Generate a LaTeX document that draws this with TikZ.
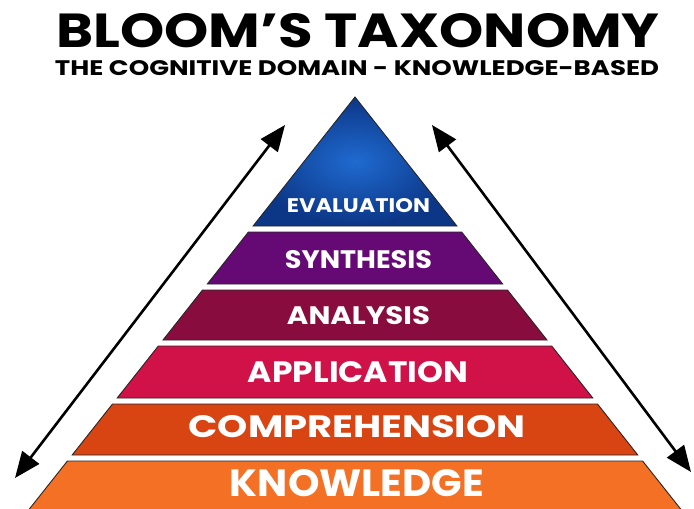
\documentclass[tikz,border=0pt]{standalone}
\usepackage{fontspec}
\usepackage{graphicx}
\setmainfont{Poppins}
\usetikzlibrary{arrows.meta}
\definecolor{evalcenter}{HTML}{1F6AD0}
\definecolor{evaledge}{HTML}{0C3686}
\definecolor{synthmid}{HTML}{A42AB2}
\definecolor{synthedge}{HTML}{650A74}
\definecolor{analysismid}{HTML}{DA3450}
\definecolor{analysisedge}{HTML}{880C3E}
\definecolor{applymid}{HTML}{F4584C}
\definecolor{applyedge}{HTML}{D01248}
\definecolor{comprehmid}{HTML}{F47A24}
\definecolor{comprehedge}{HTML}{D84412}
\definecolor{knowmid}{HTML}{FCAE3C}
\definecolor{knowedge}{HTML}{F47024}
\tikzset{
  band/.style={draw=black!85, line width=0.9pt},
  bandtext/.style={text=white, font=\bfseries, inner sep=0pt},
  titletext/.style={text=black, font=\bfseries, inner sep=0pt},
  twoway/.style={line width=2.6pt,
    {Triangle[length=26pt,width=21pt]}-{Triangle[length=26pt,width=21pt]}}
}
% squeeze a text into a box of given width and cap height
\newcommand{\fitbox}[3]{\resizebox{#1}{#2}{#3}}

\begin{document}
\begin{tikzpicture}[x=1pt, y=-1pt]
  \useasboundingbox (0,0) rectangle (694,509);
  % title
  \node[titletext] (title) at (358,31) {\fitbox{603pt}{34pt}{BLOOM'S TAXONOMY}};
  \node[titletext] (subtitle) at (357,68) {\fitbox{604pt}{15pt}{THE COGNITIVE DOMAIN - KNOWLEDGE-BASED}};
  % evaluation (top of the pyramid)
  \draw[band, inner color=evalcenter, outer color=evaledge]
    (355,97) -- (456.9,226) -- (253.1,226) -- cycle;
  \node[bandtext] (evaluation) at (358.5,205.5) {\fitbox{143pt}{14pt}{EVALUATION}};
  % synthesis
  \draw[band, left color=synthedge, middle color=synthmid, right color=synthedge]
    (248.4,232) -- (461.7,232) -- (502.7,284) -- (207.3,284) -- cycle;
  \node[bandtext] (synthesis) at (358.5,260) {\fitbox{147pt}{18pt}{SYNTHESIS}};
  % analysis
  \draw[band, left color=analysisedge, middle color=analysismid, right color=analysisedge]
    (202.5,290) -- (507.5,290) -- (547,340) -- (163,340) -- cycle;
  \node[bandtext] (analysis) at (358.5,316) {\fitbox{143pt}{18pt}{ANALYSIS}};
  % application
  \draw[band, left color=applyedge, middle color=applymid, right color=applyedge]
    (158.3,346) -- (551.7,346) -- (592.8,398) -- (117.2,398) -- cycle;
  \node[bandtext] (application) at (358,372.5) {\fitbox{220pt}{21pt}{APPLICATION}};
  % comprehension
  \draw[band, left color=comprehedge, middle color=comprehmid, right color=comprehedge]
    (112.5,404) -- (597.5,404) -- (637.8,455) -- (72.2,455) -- cycle;
  \node[bandtext] (comprehension) at (357,426.5) {\fitbox{337pt}{22pt}{COMPREHENSION}};
  % knowledge (base, runs off the page)
  \draw[band, left color=knowedge, middle color=knowmid, right color=knowedge]
    (67.4,461) -- (642.6,461) -- (683,512) -- (27,512) -- cycle;
  \node[bandtext] (knowledge) at (357,483.5) {\fitbox{254pt}{27pt}{KNOWLEDGE}};
  % arrows along the sides
  \coordinate (left-top) at (285,125);
  \coordinate (left-bottom) at (15,478);
  \coordinate (right-top) at (432,125);
  \coordinate (right-bottom) at (691,472);
  \draw[twoway] (left-bottom) -- (left-top);
  \draw[twoway] (right-bottom) -- (right-top);
\end{tikzpicture}
\end{document}
